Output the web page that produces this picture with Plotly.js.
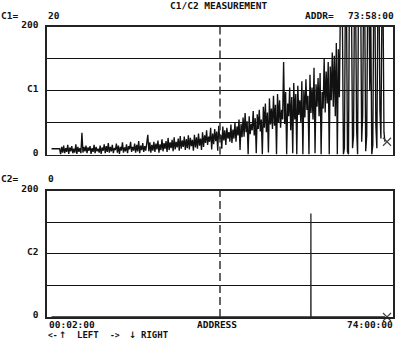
<!DOCTYPE html>
<html><head><meta charset="utf-8">
<script src="https://cdn.plot.ly/plotly-3.0.1.min.js"></script>
<style>html,body{margin:0;padding:0;background:#fff}#chart{width:400px;height:342px}</style>
</head><body><div id="chart"></div>
<script>
// ---- data ----
const c1Values = [
 9,9,9,9,9,9,9,9,9,
 0,12,3,14,2,10,4,15,1,11,5,
 13,2,9,3,16,1,12,4,10,2,
 34,3,12,5,14,2,11,6,13,1,
 10,4,15,2,12,5,9,3,14,1,
 11,6,16,2,13,4,18,3,12,5,
 15,2,10,7,17,3,14,1,12,6,
 19,3,11,5,16,2,13,8,20,4,
 12,6,17,3,15,5,21,2,14,7,
 18,4,13,6,16,31,5,19,3,15,
 6,20,4,17,8,22,3,16,7,24,
 5,18,9,21,4,26,7,19,10,23,
 5,27,8,20,11,25,6,29,9,22,
 12,28,7,24,10,30,8,26,13,23,
 6,31,11,27,9,33,14,25,7,35,
 12,30,18,38,15,28,20,42,8,33,
 16,40,21,36,6,45,24,31,9,44,
 22,38,15,42,25,35,20,47,18,39,
 25,50,20,44,30,55,7,48,27,58,
 28,65,35,52,0,60,32,48,38,68,
 30,57,2,63,40,70,36,55,0,75,
 42,80,35,66,3,88,47,72,40,92,
 45,78,0,95,50,85,42,70,55,
 145,
 48,98,0,80,60,105,38,90,2,112,
 55,95,0,108,62,85,50,115,0,100,
 58,118,70,92,0,125,65,105,55,136,
 2,110,75,120,60,128,0,98,72,150,
 66,130,80,145,0,138,85,160,75,155,
 60,175,0,165,90,
 230,250,215,0,10,260,240,5,0,280,
 220,230,10,30,270,250,40,0,300,230,
 260,20,60,280,240,5,30,260,290,100,
 220,0,15,270,250,45,10,240,280,70,
 25,230,260,35,20
];
const c1StartMin = 60, c1StepMin = 13;          // sampling grid (minutes)
const c2Minutes = [60, 3386, 3387, 3388, 4337];
const c2Values  = [0, 0, 164, 0, 0];
const cursorMinutes = 4363;
const cursorC1 = 20, cursorC2 = 0;
const cursorAddr = '73:58:00';
const refMinutes = 2221;                          // dashed reference line
const xStartMin = 2, xEndMin = 4440;
const xStartLabel = '00:02:00', xEndLabel = '74:00:00', xTitle = 'ADDRESS';
const yTickVals = [0, 50, 100, 150, 200];
const c1TickText = ['0', '', 'C1', '', '200'];
const c2TickText = ['0', '', 'C2', '', '200'];
const headerTitle = 'C1/C2 MEASUREMENT';

// ---- build ----
const c1Minutes = c1Values.map((_, i) => c1StartMin + i * c1StepMin);

const W = 400, H = 342, L = 47, R = 7, T = 27, B = 25;
const PW = W - L - R, PH = H - T - B;
const px = v => (v - L) / PW;
const py = v => (H - B - v) / PH;

const FONT = {family: 'DejaVu Sans Mono', size: 9.5, color: '#111', weight: 'bold'};
const fnt = (s, fam) => Object.assign({}, FONT, {size: s}, fam ? {family: fam} : {});

const traces = [
  {x: c1Minutes, y: c1Values, xaxis: 'x', yaxis: 'y', type: 'scatter', mode: 'lines',
   line: {color: '#111', width: 1.35}, hoverinfo: 'skip'},
  {x: c2Minutes, y: c2Values, xaxis: 'x2', yaxis: 'y2', type: 'scatter', mode: 'lines',
   line: {color: '#222', width: 1.3}, hoverinfo: 'skip'},
  {x: [cursorMinutes], y: [cursorC1], xaxis: 'x', yaxis: 'y', mode: 'markers', cliponaxis: false,
   marker: {symbol: 'x-thin', size: 8, line: {color: '#444', width: 1.2}}, hoverinfo: 'skip'},
  {x: [cursorMinutes], y: [cursorC2], xaxis: 'x2', yaxis: 'y2', mode: 'markers', cliponaxis: false,
   marker: {symbol: 'x-thin', size: 8, line: {color: '#444', width: 1.2}}, hoverinfo: 'skip'}
];

function xax() {
  return {range: [xStartMin, xEndMin], showticklabels: false, ticks: '', showgrid: false,
    zeroline: false, showline: true, mirror: true, linecolor: '#222', linewidth: 1.6};
}
function yax(txt, dom) {
  return {domain: dom, range: [0, 200], tickvals: yTickVals, ticktext: txt, ticks: '',
    showgrid: true, gridcolor: '#111', gridwidth: 1.2, zeroline: false,
    showline: true, mirror: true, linecolor: '#222', linewidth: 1.6,
    tickfont: FONT, ticklabelshift: -2, ticklabelstandoff: 5};
}

function ann(text, x, y, xanchor, font) {
  return {text: text, xref: 'paper', yref: 'paper', x: px(x), y: py(y), xanchor: xanchor || 'left',
    yanchor: 'middle', showarrow: false, font: font || FONT, borderpad: 0};
}

const layout = {
  width: W, height: H, margin: {l: L, r: R, t: T, b: B},
  paper_bgcolor: '#fff', plot_bgcolor: '#fff', showlegend: false,
  xaxis: Object.assign(xax(), {anchor: 'y'}),
  yaxis: yax(c1TickText, [py(154.5), 1]),
  xaxis2: Object.assign(xax(), {anchor: 'y2', matches: 'x'}),
  yaxis2: yax(c2TickText, [0, py(190.7)]),
  shapes: [
    {type: 'line', xref: 'x', yref: 'y domain', x0: refMinutes, x1: refMinutes, y0: 0, y1: 1,
     line: {color: '#333', width: 1.5, dash: '8px,4px'}},
    {type: 'line', xref: 'x2', yref: 'y2 domain', x0: refMinutes, x1: refMinutes, y0: 0, y1: 1,
     line: {color: '#333', width: 1.5, dash: '8px,4px'}}
  ],
  annotations: [
    ann(headerTitle, 219, 5.5, 'center'),
    ann('C1=', 0, 15.3),
    ann(String(cursorC1), 47, 15.3),
    ann('ADDR=', 304, 15.3),
    ann(cursorAddr, 347, 15.3),
    ann('C2=', 0, 178.7),
    ann(String(cursorC2), 47, 178.7),
    ann(xStartLabel, 47.5, 324.8),
    ann(xTitle, 216.5, 324.8, 'center'),
    ann(xEndLabel, 393.5, 324.8, 'right'),
    ann('<-', 47, 335.3, 'left', fnt(8)),
    ann('↑', 58, 335.3, 'left', fnt(9, 'DejaVu Sans')),
    ann('LEFT', 76, 335.3, 'left', fnt(9)),
    ann('->', 109, 335.3, 'left', fnt(8)),
    ann('↓', 128, 335.3, 'left', fnt(9, 'DejaVu Sans')),
    ann('RIGHT', 140, 335.3, 'left', fnt(9))
  ]
};

Plotly.newPlot('chart', traces, layout, {displayModeBar: false, staticPlot: true});
</script></body></html>
